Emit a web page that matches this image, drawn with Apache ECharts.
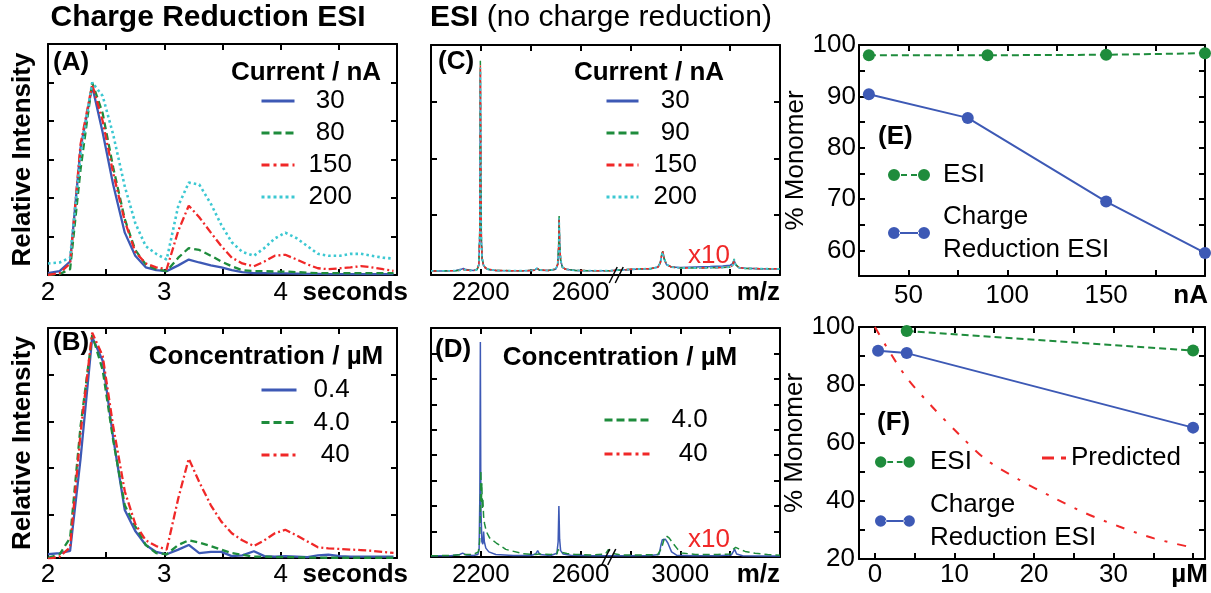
<!DOCTYPE html>
<html>
<head>
<meta charset="utf-8">
<script src="https://cdn.jsdelivr.net/npm/echarts@6/dist/echarts.min.js"></script>
<style>
html,body{margin:0;padding:0;background:#fff;}
#main{width:1211px;height:593px;}
</style>
</head>
<body>
<div id="main"></div>
<script>
// ---------- (A)/(B) chromatograms: time in seconds ----------
const timeAB = [2.00,2.10,2.19,2.28,2.38,2.47,2.56,2.66,2.75,2.84,2.93,3.02,3.12,3.21,3.30,3.40,3.49,3.58,3.67,3.77,3.86,3.95,4.04,4.14,4.23,4.32,4.41,4.51,4.60,4.69,4.78,4.88,4.97];
// (A) current series, nA
const intA30  = [0.01,0.02,0.07,0.66,0.98,0.74,0.47,0.22,0.10,0.04,0.025,0.02,0.05,0.08,0.065,0.05,0.04,0.025,0.015,0.01,0.01,0.008,0.008,0.007,0.006,0.006,0.005,0.005,0.005,0.005,0.005,0.005,0.005];
const intA80  = [0.0,0.005,0.03,0.55,1.0,0.84,0.56,0.29,0.13,0.055,0.03,0.02,0.09,0.14,0.13,0.10,0.07,0.045,0.025,0.02,0.02,0.018,0.018,0.015,0.012,0.01,0.01,0.01,0.01,0.01,0.01,0.01,0.01];
const intA150 = [0.0,0.01,0.06,0.68,0.99,0.80,0.53,0.28,0.12,0.06,0.04,0.03,0.23,0.36,0.30,0.22,0.15,0.09,0.06,0.045,0.07,0.10,0.105,0.08,0.055,0.035,0.03,0.035,0.04,0.046,0.04,0.03,0.022];
const intA200 = [0.06,0.065,0.09,0.62,1.0,0.93,0.73,0.46,0.27,0.15,0.11,0.08,0.36,0.48,0.47,0.37,0.26,0.17,0.12,0.10,0.14,0.19,0.22,0.19,0.15,0.11,0.10,0.10,0.11,0.11,0.10,0.09,0.085];
// (B) concentration series, µM
const intB04 = [0.03,0.035,0.045,0.44,0.96,0.86,0.53,0.22,0.13,0.07,0.04,0.03,0.05,0.07,0.035,0.04,0.04,0.022,0.025,0.043,0.022,0.02,0.022,0.02,0.018,0.025,0.028,0.022,0.02,0.02,0.02,0.02,0.02];
const intB4  = [0.015,0.03,0.10,0.58,0.97,0.82,0.52,0.24,0.15,0.07,0.035,0.03,0.07,0.09,0.08,0.065,0.05,0.035,0.028,0.02,0.02,0.018,0.018,0.017,0.016,0.016,0.015,0.015,0.015,0.015,0.015,0.015,0.015];
const intB40 = [0.01,0.02,0.06,0.55,0.98,0.88,0.58,0.30,0.16,0.09,0.065,0.05,0.27,0.44,0.34,0.24,0.17,0.12,0.09,0.065,0.09,0.12,0.135,0.11,0.085,0.06,0.055,0.053,0.05,0.048,0.045,0.04,0.036];

// ---------- (C) ESI spectra vs current (right of the break shown x10) ----------
const mzC = [2000,2050,2100,2120,2130,2140,2170,2185,2192,2196,2198,2200,2202,2205,2210,2218,2230,2260,2320,2380,2415,2425,2435,2470,2500,2508,2512,2514,2516,2520,2527,2540,2580,2650,2720,2745,2800,2840,2880,2910,2920,2926,2930,2935,2945,2965,3000,3060,3120,3170,3200,3210,3216,3222,3235,3260,3320,3400];
const specC30  = [0.3,0.3,0.5,1.0,1.4,0.9,0.5,1.0,3,18,88,40,14,6,3,1.6,0.9,0.5,0.4,0.4,0.6,1.4,0.6,0.5,1.0,3,10,23,12,5,2,1,0.5,0.4,0.4,0.6,0.9,1.2,1.3,2.0,4,7.5,8.5,5.5,3,2,1.8,2.0,2.2,2.5,2.8,3.5,5.0,3.0,1.8,1.5,1.3,1.2];
const specC90  = [0.3,0.3,0.4,0.7,0.9,0.7,0.4,0.9,3,20,93,42,15,6,3,1.7,1.0,0.5,0.4,0.4,0.6,1.6,0.7,0.5,1.1,3.2,11,24.5,12.5,5,2,1,0.5,0.4,0.4,0.6,1.0,1.3,1.3,1.9,4,8,9,6,3.2,2,1.6,1.6,1.7,1.8,2.0,2.8,5.6,3.2,1.8,1.4,1.3,1.2];
const specC150 = [0.3,0.3,0.4,0.7,0.9,0.7,0.4,0.9,3,19,91,41,14,6,3,1.6,1.0,0.5,0.4,0.4,0.6,1.5,0.7,0.5,1.0,3,10.5,23,12,5,2,1,0.5,0.4,0.4,0.6,1.0,1.2,1.3,1.9,3.8,7.8,8.8,5.8,3.1,2,1.6,1.6,1.7,1.8,2.0,2.7,5.2,3.1,1.8,1.4,1.3,1.2];
const specC200 = [0.3,0.3,0.4,0.7,0.9,0.7,0.4,0.9,3,19,90,40,14,6,3,1.6,1.0,0.5,0.4,0.4,0.6,1.5,0.7,0.5,1.0,3,10,23.5,12,5,2,1,0.5,0.4,0.4,0.6,1.0,1.2,1.3,1.9,3.8,7.5,8.6,5.8,3.1,2,1.6,1.6,1.7,1.8,2.0,2.7,5.4,3.1,1.8,1.4,1.3,1.2];

// ---------- (D) ESI spectra vs concentration ----------
const mzD04  = [2000,2080,2115,2127,2140,2170,2188,2193,2196,2198,2200,2204,2208,2211,2214,2220,2232,2260,2330,2400,2420,2428,2436,2480,2505,2510,2513,2516,2520,2530,2560,2650,2740,2800,2880,2915,2922,2928,2940,2950,2965,2985,3050,3150,3205,3212,3218,3226,3250,3320,3400];
const specD04 = [0.05,0.05,0.1,0.15,0.08,0.06,0.1,0.3,2.5,8.45,2.0,0.6,0.5,1.0,0.6,0.35,0.2,0.1,0.06,0.06,0.12,0.25,0.1,0.06,0.15,0.6,2.0,0.7,0.25,0.12,0.07,0.05,0.05,0.05,0.06,0.1,0.45,0.68,0.7,0.55,0.2,0.07,0.05,0.05,0.08,0.2,0.3,0.12,0.05,0.04,0.04];
const mzD4   = [2000,2080,2127,2170,2190,2195,2198,2200,2202,2204,2206,2208,2211,2215,2222,2235,2262,2300,2368,2420,2428,2436,2480,2505,2510,2515,2525,2545,2580,2650,2700,2712,2725,2760,2850,2910,2925,2935,2944,2955,2970,2990,3005,3060,3150,3200,3212,3222,3235,3260,3300,3350,3400];
const specD4  = [0.05,0.06,0.1,0.1,0.2,0.6,1.8,3.4,2.1,2.9,1.9,2.3,1.6,1.3,1.0,0.75,0.55,0.3,0.13,0.1,0.14,0.12,0.1,0.12,0.3,0.22,0.18,0.14,0.1,0.08,0.12,0.3,0.15,0.08,0.08,0.1,0.35,0.7,0.83,0.75,0.55,0.3,0.16,0.1,0.1,0.12,0.3,0.38,0.32,0.22,0.15,0.1,0.07];
const specD40 = [];

// ---------- (E) % monomer vs current ----------
const currentESI = [30, 90, 150, 200];
const monoESI_E  = [98.0, 98.0, 98.1, 98.4];
const currentCR  = [30, 80, 150, 200];
const monoCR_E   = [90.4, 85.8, 69.5, 59.5];

// ---------- (F) % monomer vs concentration ----------
const concESI   = [4, 40];
const monoESI_F = [98.6, 91.9];
const concCR    = [0.4, 4, 40];
const monoCR_F  = [91.8, 91.0, 65.3];
const concPred  = [0, 1.5, 4, 7.2, 10.5, 13.9, 18.1, 22.2, 26.4, 30.7, 35.1, 40];
const monoPred  = [100, 93, 82.5, 72.5, 63.2, 54.4, 47.4, 41.5, 35.9, 31.2, 27.1, 23.9];

// ---------- styling ----------
const FONT = 'Liberation Sans, Arial, Helvetica, sans-serif';
const BLUE = '#3d59b5', GREEN = '#1e8c3c', RED = '#f02828', CYAN = '#3cc8d2';
const DASH = [7, 4], DASHDOT = [8, 3, 2, 3], DOT = [2.5, 3];

const zip = (xs, ys) => xs.map((x, i) => [x, ys[i]]);

const grids = [
  {left: 48,  top: 44,  width: 349, height: 231},  // A
  {left: 48,  top: 328, width: 349, height: 230},  // B
  {left: 431, top: 45,  width: 349, height: 230},  // C
  {left: 431, top: 328, width: 349, height: 229},  // D
  {left: 859, top: 45,  width: 346, height: 231},  // E
  {left: 859, top: 327, width: 346, height: 232}   // F
].map(g => Object.assign({outerBoundsMode: 'none', containLabel: false}, g));

function axisPair(dim, g, s) {
  const base = () => ({
    type: 'value', gridIndex: g, min: s.min, max: s.max, interval: s.interval,
    axisLine: {show: true, onZero: false, lineStyle: {color: '#000', width: 2}},
    axisTick: {show: true, inside: true, length: 6, lineStyle: {color: '#000', width: 2}, customValues: s.ticks},
    splitLine: {show: false},
    axisLabel: {show: false}
  });
  const main = base();
  main.position = dim === 'x' ? 'bottom' : 'left';
  if (s.labels) {
    main.axisLabel = {
      show: true, color: '#000', fontFamily: FONT, fontSize: 26, margin: s.margin,
      formatter: s.fmt, customValues: s.labelValues,
      showMinLabel: true, showMaxLabel: true, hideOverlap: false
    };
  }
  if (s.name) {
    main.name = s.name;
    Object.assign(main, s.nameCfg);
  }
  const mirror = base();
  mirror.position = dim === 'x' ? 'top' : 'right';
  return [main, mirror];
}

const endName = (text, gap, pad) => ({
  nameLocation: 'end', nameGap: gap,
  nameTextStyle: {fontFamily: FONT, fontSize: 26, fontWeight: 'bold', color: '#000',
                  align: 'right', verticalAlign: 'top', padding: [pad, 0, 0, 0]}
});
const sideName = (gap, bold) => ({
  nameLocation: 'middle', nameGap: gap,
  nameTextStyle: {fontFamily: FONT, fontSize: 26, fontWeight: bold ? 'bold' : 'normal', color: '#000'}
});

const fmtSec = v => (Math.abs(v - Math.round(v)) < 1e-9 && v < 5) ? String(Math.round(v)) : '';
const fmtMz = v => ([2200, 2600, 3000].indexOf(v) >= 0 ? String(v) : '');

const xAxes = [], yAxes = [];
function addAxes(g, xs, ys) {
  xAxes.push(...axisPair('x', g, xs));
  yAxes.push(...axisPair('y', g, ys));
}
// A
addAxes(0,
  {min: 2, max: 5, interval: 0.5, labels: true, fmt: fmtSec, margin: 5, name: 'seconds', nameCfg: endName('seconds', 11, 5)},
  {min: 0, max: 1.2, interval: 0.2, name: 'Relative Intensity', nameCfg: sideName(12, true)});
// B
addAxes(1,
  {min: 2, max: 5, interval: 0.5, labels: true, fmt: fmtSec, margin: 4, name: 'seconds', nameCfg: endName('seconds', 11, 4)},
  {min: 0.014, max: 1.0, ticks: [0.2, 0.4, 0.6, 0.8], name: 'Relative Intensity', nameCfg: sideName(12, true)});
// C
addAxes(2,
  {min: 2000, max: 3400, interval: 200, labels: true, fmt: fmtMz, margin: 5, name: 'm/z', nameCfg: endName('m/z', 0, 5)},
  {min: -1.5, max: 100, ticks: [25, 50, 75]});
// D
addAxes(3,
  {min: 2000, max: 3400, interval: 200, labels: true, fmt: fmtMz, margin: 5, name: 'm/z', nameCfg: endName('m/z', 0, 5)},
  {min: 0, max: 9, interval: 1});
// E
addAxes(4,
  {min: 25, max: 200, interval: 25, labels: true, fmt: v => (v % 50 === 0 && v < 200 ? String(v) : ''), margin: 7, name: 'nA', nameCfg: endName('nA', 3, 7)},
  {min: 55, max: 100, interval: 5, labels: true, fmt: v => (v % 10 === 0 ? String(v) : ''), margin: 3, name: '% Monomer', nameCfg: sideName(46, false)});
// F
addAxes(5,
  {min: -2, max: 41.5, ticks: [0, 5, 10, 15, 20, 25, 30, 35, 40], labels: true, labelValues: [0, 10, 20, 30], fmt: v => String(v), margin: 3, name: 'µM', nameCfg: endName('µM', 3, 3)},
  {min: 20, max: 100, interval: 10, labels: true, fmt: v => (v % 20 === 0 ? String(v) : ''), margin: 4, name: '% Monomer', nameCfg: sideName(46, false)});

function trace(name, g, data, color, dash, width, extra) {
  return Object.assign({
    type: 'line', name, xAxisIndex: 2 * g, yAxisIndex: 2 * g, data,
    symbol: 'none', silent: true, animation: false,
    lineStyle: {color, width, type: dash},
    itemStyle: {color}
  }, extra || {});
}
function dotted(name, g, data, color, dash) {
  return trace(name, g, data, color, dash, 2, {
    symbol: 'circle', symbolSize: 12, showSymbol: true
  });
}

const series = [
  trace('30', 0, zip(timeAB, intA30), BLUE, 'solid', 2.3),
  trace('80', 0, zip(timeAB, intA80), GREEN, DASH, 2.3),
  trace('150', 0, zip(timeAB, intA150), RED, DASHDOT, 2.3),
  trace('200', 0, zip(timeAB, intA200), CYAN, DOT, 2.6),

  trace('0.4', 1, zip(timeAB, intB04), BLUE, 'solid', 2.3),
  trace('4.0', 1, zip(timeAB, intB4), GREEN, DASH, 2.3),
  trace('40', 1, zip(timeAB, intB40), RED, DASHDOT, 2.3),

  trace('30', 2, zip(mzC, specC30), BLUE, 'solid', 1.5),
  trace('90', 2, zip(mzC, specC90), GREEN, DASH, 1.5),
  trace('150', 2, zip(mzC, specC150), RED, DASHDOT, 1.5),
  trace('200', 2, zip(mzC, specC200), CYAN, DOT, 1.8),

  trace('0.4', 3, zip(mzD04, specD04), BLUE, 'solid', 1.5),
  trace('4.0', 3, zip(mzD4, specD4), GREEN, DASH, 1.5),
  trace('40', 3, specD40, RED, DASHDOT, 1.5),

  dotted('ESI', 4, zip(currentESI, monoESI_E), GREEN, [7, 4]),
  dotted('Charge Reduction ESI', 4, zip(currentCR, monoCR_E), BLUE, 'solid'),

  trace('Predicted', 5, zip(concPred, monoPred), RED, [9, 10, 3, 10], 2, {smooth: 0.3}),
  dotted('ESI', 5, zip(concESI, monoESI_F), GREEN, [7, 4]),
  dotted('Charge Reduction ESI', 5, zip(concCR, monoCR_F), BLUE, 'solid')
];

// ---------- legends ----------
const padName = n => (n.length === 2 ? ' ' + n : n);
function lineLegend(left, top, iw, gap, textPad, items) {
  return {
    orient: 'vertical', left, top, padding: 0, selectedMode: false,
    itemWidth: iw, itemHeight: 14, itemGap: gap,
    itemStyle: {opacity: 0},
    textStyle: {fontFamily: FONT, fontSize: 26, color: '#000', lineHeight: 28, padding: [0, 0, 0, textPad]},
    formatter: padName,
    data: items
  };
}
const it = (name, type, width) => ({name, lineStyle: {type, width}});
const LG_DASH = [8, 4], LG_DASHDOT = [8, 4, 3, 4], LG_DOT = [3, 3];

const ICON_DASH = 'path://M0,6a6,6 0 1,0 12,0a6,6 0 1,0 -12,0Z M30,6a6,6 0 1,0 12,0a6,6 0 1,0 -12,0Z M13,5h6v2h-6Z M23,5h6v2h-6Z';
const ICON_SOLID = 'path://M0,6a6,6 0 1,0 12,0a6,6 0 1,0 -12,0Z M30,6a6,6 0 1,0 12,0a6,6 0 1,0 -12,0Z M11,5h20v2h-20Z';
const ICON_PRED = 'path://M0,0h12v3h-12Z M19,0h5v3h-5Z';

function iconLegend(left, top, iw, ih, textPad, name, icon, fmt, lh) {
  return {
    orient: 'vertical', left, top, padding: 0, selectedMode: false,
    itemWidth: iw, itemHeight: ih,
    textStyle: {fontFamily: FONT, fontSize: 26, color: '#000', lineHeight: lh || 28, padding: [0, 0, 0, textPad]},
    formatter: fmt || (n => n),
    data: [{name, icon}]
  };
}
const crFmt = () => 'Charge\nReduction ESI';

const legends = [
  lineLegend(260, 87, 33, 4, 9, [it('30', 'solid', 3), it('80', LG_DASH, 3), it('150', LG_DASHDOT, 3), it('200', LG_DOT, 3)]),
  lineLegend(260, 376, 35, 4.5, 12, [it('0.4', 'solid', 3), it('4.0', LG_DASH, 3), it('40', LG_DASHDOT, 3)]),
  lineLegend(605, 87, 32, 4, 10, [it('30', 'solid', 3), it('90', LG_DASH, 3), it('150', LG_DASHDOT, 3), it('200', LG_DOT, 3)]),
  lineLegend(603, 406, 45, 6, 17, [it('4.0', LG_DASH, 3), it('40', LG_DASHDOT, 3)]),
  iconLegend(888, 161, 42, 12, 8, 'ESI', ICON_DASH),
  iconLegend(888, 200, 42, 12, 8, 'Charge Reduction ESI', ICON_SOLID, crFmt, 33),
  iconLegend(875, 448, 40, 11.4, 10, 'ESI', ICON_DASH),
  iconLegend(875, 488, 40, 11.4, 10, 'Charge Reduction ESI', ICON_SOLID, crFmt, 33),
  iconLegend(1042, 444, 24, 3, 0, 'Predicted', ICON_PRED)
];

// ---------- text annotations ----------
function label(x, y, text, opt) {
  opt = opt || {};
  return {
    type: 'text', x, y, silent: true,
    style: Object.assign({
      text, fill: opt.color || '#000', fontFamily: FONT,
      fontSize: opt.size || 26, fontWeight: opt.bold ? 'bold' : 'normal',
      align: opt.align || 'left', verticalAlign: 'middle'
    }, opt.rich ? {rich: opt.rich} : {})
  };
}
const texts = [
  label(208, 18, 'Charge Reduction ESI', {bold: true, size: 30, align: 'center'}),
  label(601, 18, '{b|ESI} (no charge reduction)', {size: 30, align: 'center',
    rich: {b: {fontWeight: 'bold', fontSize: 30, fontFamily: FONT, fill: '#000'}}}),
  label(306, 73, 'Current / nA', {bold: true, align: 'center'}),
  label(266, 357, 'Concentration / µM', {bold: true, align: 'center'}),
  label(649, 73, 'Current / nA', {bold: true, align: 'center'}),
  label(620, 358, 'Concentration / µM', {bold: true, align: 'center'}),
  label(53, 63, '(A)', {bold: true}),
  label(53, 343, '(B)', {bold: true}),
  label(438, 62, '(C)', {bold: true}),
  label(435, 350, '(D)', {bold: true}),
  label(878, 137, '(E)', {bold: true}),
  label(877, 423, '(F)', {bold: true}),
  label(709, 256, 'x10', {color: RED, align: 'center'}),
  label(709, 540, 'x10', {color: RED, align: 'center'})
];

const chart = echarts.init(document.getElementById('main'), null, {renderer: 'canvas'});
chart.setOption({
  animation: false,
  backgroundColor: '#fff',
  grid: grids,
  xAxis: xAxes,
  yAxis: yAxes,
  legend: legends,
  series,
  graphic: {elements: texts}
});

// axis-break marks on the m/z axes, placed at the break position in data units
const breaks = [{xAxisIndex: 4, yAxisIndex: 4, mz: 2743, y: -1.5}, {xAxisIndex: 6, yAxisIndex: 6, mz: 2713, y: 0}];
const breakMarks = [];
breaks.forEach(b => {
  const p = chart.convertToPixel({xAxisIndex: b.xAxisIndex, yAxisIndex: b.yAxisIndex}, [b.mz, b.y]);
  [-3, 3].forEach(dx => {
    breakMarks.push({
      type: 'line', silent: true, z: 100,
      shape: {x1: p[0] + dx - 4, y1: p[1] + 8, x2: p[0] + dx + 4, y2: p[1] - 8},
      style: {stroke: '#000', lineWidth: 1.5}
    });
  });
});
chart.setOption({graphic: {elements: texts.concat(breakMarks)}});
</script>
</body>
</html>
